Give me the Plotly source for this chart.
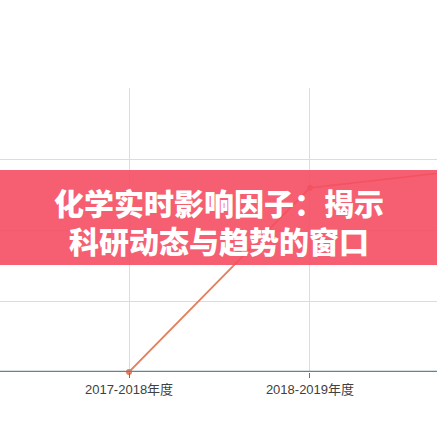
import plotly.graph_objs as go

# academic years on the x axis
years = ['2016-2017年度', '2017-2018年度', '2018-2019年度', '2019-2020年度']
# impact factor series
chem_if = [0, 0, 2.6, 2.89]
base_if = [0, 0, 0, 0]

banner_lines = ['化学实时影响因子：揭示', '科研动态与趋势的窗口']


def make_chart():
    trace1 = go.Scatter(
        x=years, y=chem_if,
        mode='lines+markers',
        line=dict(color='#e2805f', width=1.8),
        marker=dict(size=6, color='#e2805f'),
        cliponaxis=False,
        hoverinfo='x+y'
    )
    trace2 = go.Scatter(
        x=years, y=base_if,
        mode='lines',
        line=dict(color='#5d8497', width=2.5),
        cliponaxis=False,
        hoverinfo='x+y'
    )

    banner_font = dict(size=30, color='white', weight=900,
                       family='Noto Sans CJK SC')

    layout = go.Layout(
        width=437,
        height=437,
        showlegend=False,
        paper_bgcolor='white',
        plot_bgcolor='white',
        margin=dict(l=0, r=0, t=88, b=65),
        font=dict(family='Noto Sans CJK SC, Noto Sans, sans-serif', color='#444'),
        xaxis=dict(
            type='category',
            range=[0.287, 2.702],
            showgrid=True,
            gridcolor='#dcdcdc',
            gridwidth=1,
            ticks='outside',
            ticklen=5,
            tickcolor='#6e7079',
            tickfont=dict(size=13, color='#404040',
                          family='Liberation Sans, Noto Sans CJK SC'),
            showline=False,
            zeroline=False,
        ),
        yaxis=dict(
            range=[0, 4.01],
            dtick=1,
            showgrid=True,
            gridcolor='#dcdcdc',
            gridwidth=1,
            showticklabels=False,
            zeroline=False,
            showline=False,
        ),
        shapes=[
            dict(type='rect', xref='paper', yref='paper',
                 x0=0, x1=1, y0=0.377, y1=0.711,
                 fillcolor='rgba(245,78,98,0.9)', line=dict(width=0),
                 layer='above'),
        ],
        annotations=[
            dict(text=banner_lines[0],
                 xref='paper', yref='paper', x=0.5, y=0.598,
                 showarrow=False, align='center', height=34, borderpad=0,
                 font=banner_font),
            dict(text=banner_lines[1],
                 xref='paper', yref='paper', x=0.5, y=0.464,
                 showarrow=False, align='center', height=34, borderpad=0,
                 font=banner_font),
        ],
    )

    fig = go.Figure(data=[trace1, trace2], layout=layout)
    # the page body has a default margin; drop it so the chart fills the window
    fig.write_html('out.html', config={'displayModeBar': False},
                   post_script="document.body.style.margin='0';")


make_chart()
